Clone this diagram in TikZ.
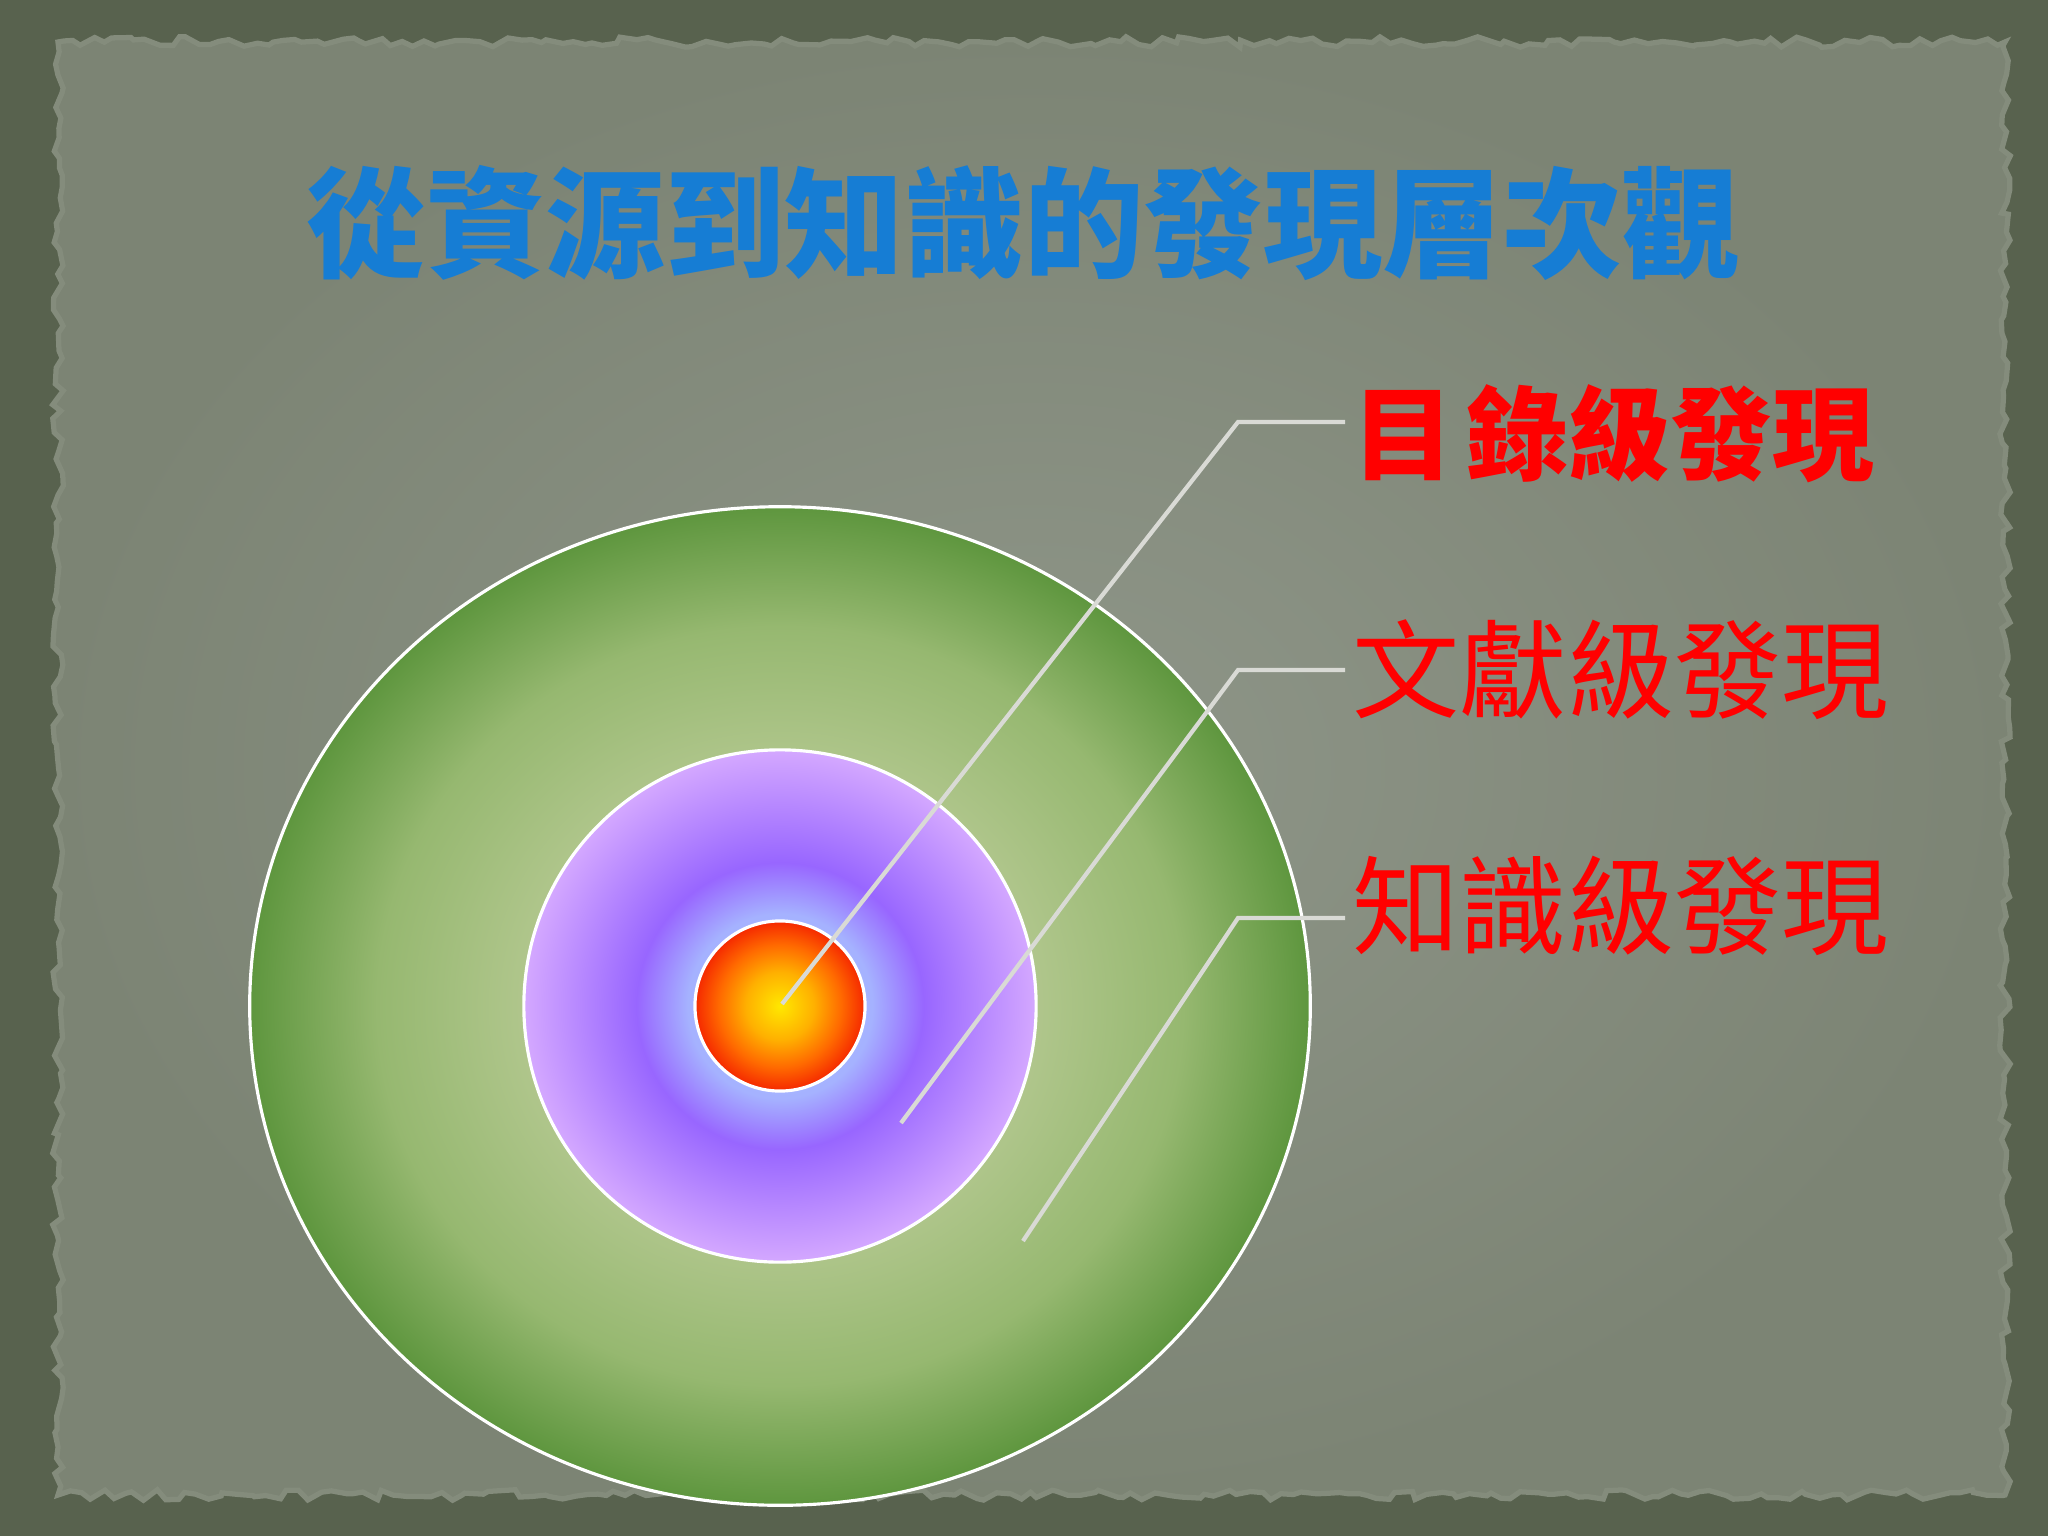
\documentclass[tikz,border=0pt]{standalone}
\usepackage{fontspec}
\setmainfont{Noto Sans CJK TC}
\usetikzlibrary{decorations.pathmorphing}

\definecolor{framebg}{RGB}{88,98,78}
\definecolor{paperin}{RGB}{143,150,137}
\definecolor{paperout}{RGB}{124,132,116}
\definecolor{paperrim}{RGB}{132,140,124}
\definecolor{titleblue}{RGB}{22,125,212}
\definecolor{leadgray}{RGB}{217,218,213}
\definecolor{g0}{RGB}{184,204,150}
\definecolor{g1}{RGB}{176,198,140}
\definecolor{g2}{RGB}{150,184,112}
\definecolor{g3}{RGB}{94,150,62}
\definecolor{v0}{RGB}{170,190,255}
\definecolor{v1}{RGB}{165,178,255}
\definecolor{v2}{RGB}{152,102,255}
\definecolor{v3}{RGB}{212,168,255}
\definecolor{r0}{RGB}{255,232,0}
\definecolor{r1}{RGB}{255,176,0}
\definecolor{r2}{RGB}{255,106,0}
\definecolor{r3}{RGB}{245,40,0}

\pgfdeclareradialshading{greenring}{\pgfpoint{0bp}{0bp}}{color(0bp)=(g0); color(12bp)=(g1); color(19bp)=(g2); color(25bp)=(g3); color(50bp)=(g3)}
\pgfdeclareradialshading{violetring}{\pgfpoint{0bp}{0bp}}{color(0bp)=(v0); color(9bp)=(v1); color(14bp)=(v2); color(25bp)=(v3); color(50bp)=(v3)}
\pgfdeclareradialshading{redcore}{\pgfpoint{0bp}{0bp}}{color(0bp)=(r0); color(10bp)=(r1); color(18bp)=(r2); color(25bp)=(r3); color(50bp)=(r3)}

\tikzset{
  ring/.style={draw=white,line width=0.9pt},
  lead/.style={draw=leadgray,line width=1.2pt},
  level/.style={anchor=west,inner xsep=0.07cm,text=red,font=\fontsize{30.5}{30.5}\selectfont}
}

\begin{document}
\begin{tikzpicture}[x=0.01cm,y=-0.01cm]
\pgfmathsetseed{7}
\def\cx{780} \def\cy{1006}

\useasboundingbox (0,0) rectangle (2048,1536);
\fill[framebg] (0,0) rectangle (2048,1536);
\shade[inner color=paperin,outer color=paperout,draw=paperrim,line width=1.5pt,
  decorate,decoration={random steps,segment length=3pt,amplitude=1.5pt}]
  (58,42) rectangle (2005,1495);

\node[text=titleblue,font=\fontsize{34}{34}\selectfont\bfseries] (title) at (1024,223) {從資源到知識的發現層次觀};

\coordinate (c) at (\cx,\cy);
\shade[shading=greenring,ring] (c) ellipse [x radius=5.3cm,y radius=4.99cm];
\shade[shading=violetring,ring] (c) circle [radius=2.56cm];
\shade[shading=redcore,ring] (c) circle [radius=0.85cm];

\foreach \n/\sx/\sy/\ky/\dy/\txt in {1/782/1004/422/12/{\fontsize{29}{29}\selectfont\bfseries 目\hspace{0.12em}錄級發現},2/901/1123/670/0/文獻級發現,3/1023/1241/918/-12/知識級發現}{
\coordinate (s\n) at (\sx,\sy);
\coordinate (k\n) at (1238,\ky);
\coordinate (e\n) at (1345,\ky);
\node[level,yshift=-\dy*0.01cm] (l\n) at (e\n) {\txt};
\draw[lead] (s\n) -- (k\n) -- (e\n);
}
\end{tikzpicture}
\end{document}
